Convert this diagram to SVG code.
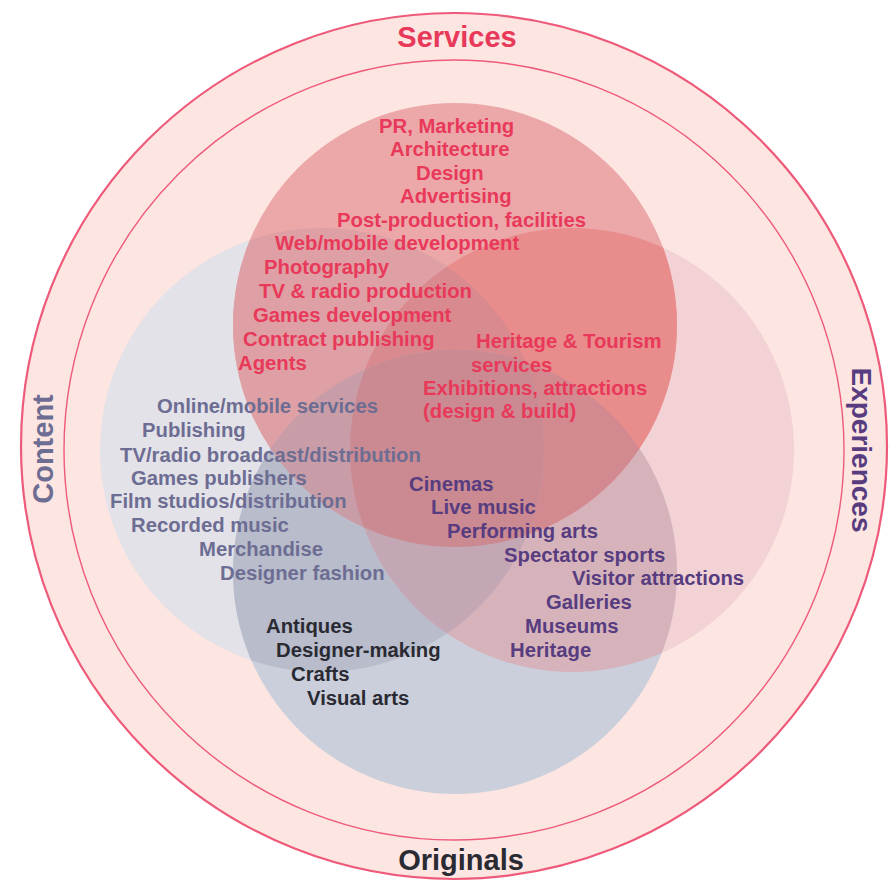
<svg xmlns="http://www.w3.org/2000/svg" xmlns:xlink="http://www.w3.org/1999/xlink" width="890" height="881" viewBox="0 0 890 881">
<style>
text{font-family:"Liberation Sans",Arial,sans-serif;font-weight:bold;font-size:20.3px}
.lbl{font-size:29px}
.red{fill:#e8395a}
.con{fill:#6d6d93}
.exp{fill:#573c80}
.ori{fill:#2a2a33}
</style>
<defs>
<circle id="cS" cx="455" cy="325" r="222"/>
<circle id="cC" cx="322" cy="450" r="222"/>
<circle id="cE" cx="572" cy="450" r="222"/>
<circle id="cO" cx="455" cy="572" r="222"/>
<clipPath id="kS"><use xlink:href="#cS"/></clipPath>
<clipPath id="kC"><use xlink:href="#cC"/></clipPath>
<clipPath id="kE"><use xlink:href="#cE"/></clipPath>
<clipPath id="kO"><use xlink:href="#cO"/></clipPath>
</defs>
<g id="frame">
<circle cx="454" cy="446" r="433" fill="#fde5e1" stroke="#ee5a79" stroke-width="2.2"/>
<circle cx="454" cy="450" r="390" fill="none" stroke="#ee5a79" stroke-width="1.4"/>
</g>
<g id="content"><use xlink:href="#cC" fill="#e3e2e8"/></g>
<g id="experiences"><use xlink:href="#cE" fill="#f2d2d5"/></g>
<g id="originals"><use xlink:href="#cO" fill="#cbcfdb"/></g>
<g id="services"><use xlink:href="#cS" fill="#eca8a9"/></g>
<g id="overlaps">
<g clip-path="url(#kC)"><use xlink:href="#cO" fill="#b8bccb"/></g>
<g clip-path="url(#kE)"><use xlink:href="#cO" fill="#d6b3bb"/></g>
<g clip-path="url(#kC)"><use xlink:href="#cS" fill="#dea0a4"/></g>
<g clip-path="url(#kE)"><use xlink:href="#cS" fill="#e98c8c"/></g>
<g clip-path="url(#kS)"><g clip-path="url(#kC)"><use xlink:href="#cE" fill="#d98a8e"/></g></g>
<g clip-path="url(#kS)"><g clip-path="url(#kC)"><use xlink:href="#cO" fill="#c99da8"/></g></g>
<g clip-path="url(#kS)"><g clip-path="url(#kE)"><use xlink:href="#cO" fill="#d28a90"/></g></g>
<g clip-path="url(#kC)"><g clip-path="url(#kE)"><use xlink:href="#cO" fill="#c4a7b4"/></g></g>
<g clip-path="url(#kS)"><g clip-path="url(#kC)"><g clip-path="url(#kE)"><use xlink:href="#cO" fill="#cb8991"/></g></g></g>
</g>
<g id="labels">
<text class="lbl red" x="457" y="47" text-anchor="middle">Services</text>
<text class="lbl ori" x="461" y="870" text-anchor="middle">Originals</text>
<text class="lbl con" transform="translate(53,449) rotate(-90)" text-anchor="middle">Content</text>
<text class="lbl exp" transform="translate(852,450) rotate(90)" text-anchor="middle" style="font-size:28px">Experiences</text>
</g>
<g id="services-items" class="red">
<text x="379" y="133">PR, Marketing</text>
<text x="390" y="156">Architecture</text>
<text x="416" y="180">Design</text>
<text x="400" y="203">Advertising</text>
<text x="337" y="227">Post-production, facilities</text>
<text x="275" y="250">Web/mobile development</text>
<text x="264" y="274">Photography</text>
<text x="259" y="298">TV &amp; radio production</text>
<text x="253" y="322">Games development</text>
<text x="243" y="346">Contract publishing</text>
<text x="238" y="370">Agents</text>
<text x="476" y="348">Heritage &amp; Tourism</text>
<text x="471" y="372">services</text>
<text x="423" y="395">Exhibitions, attractions</text>
<text x="423" y="418">(design &amp; build)</text>
</g>
<g id="content-items" class="con">
<text x="157" y="413">Online/mobile services</text>
<text x="142" y="437">Publishing</text>
<text x="120" y="462">TV/radio broadcast/distribution</text>
<text x="131" y="485">Games publishers</text>
<text x="110" y="508">Film studios/distribution</text>
<text x="131" y="532">Recorded music</text>
<text x="199" y="556">Merchandise</text>
<text x="220" y="580">Designer fashion</text>
</g>
<g id="experiences-items" class="exp">
<text x="409" y="491">Cinemas</text>
<text x="431" y="514">Live music</text>
<text x="447" y="538">Performing arts</text>
<text x="504" y="562">Spectator sports</text>
<text x="572" y="585">Visitor attractions</text>
<text x="546" y="609">Galleries</text>
<text x="525" y="633">Museums</text>
<text x="510" y="657">Heritage</text>
</g>
<g id="originals-items" class="ori">
<text x="266" y="633">Antiques</text>
<text x="276" y="657">Designer-making</text>
<text x="291" y="681">Crafts</text>
<text x="307" y="705">Visual arts</text>
</g>
</svg>
